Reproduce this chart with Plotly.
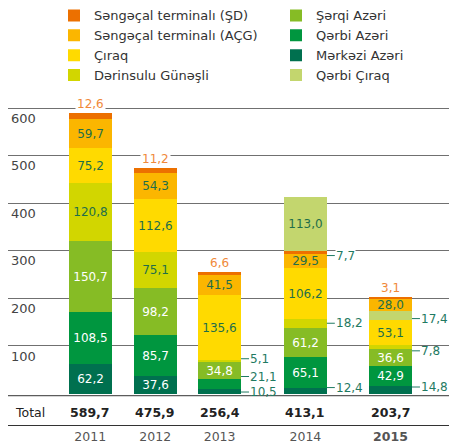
import plotly.graph_objects as go

# ---------------- data ----------------
years = ["2011", "2012", "2013", "2014", "2015"]
totals = [589.7, 475.9, 256.4, 413.1, 203.7]

merkezi_azeri = [62.2, 37.6, 10.5, 12.4, 14.8]
qerbi_azeri = [108.5, 85.7, 21.1, 65.1, 42.9]
serqi_azeri = [150.7, 98.2, 34.8, 61.2, 36.6]
derinsulu_guneshli = [120.8, 75.1, 5.1, 18.2, 7.8]
ciraq = [75.2, 112.6, 135.6, 106.2, 53.1]
qerbi_ciraq = [0, 0, 0, 113.0, 17.4]
sangachal_acg = [59.7, 54.3, 41.5, 29.5, 28.0]
sangachal_sd = [12.6, 11.2, 6.6, 7.7, 3.1]

y_ticks = [100, 200, 300, 400, 500, 600]

# ---------------- layout / style settings ----------------
x_pos = [0, 1, 1.99, 3.31, 4.62]          # bar centres (uneven gaps as in the original)
bar_w = 0.66
QC_ON_TOP = ["2014"]                      # year where Qərbi Çıraq sits on top of the stack
FONT = "DejaVu Sans"
DARK_TXT = "#1f6e4a"
SIDE_TXT = "#1f7a62"
ORANGE_TXT = "#f0893a"
LBL = 12

# labels drawn beside the bar with a short leader line: (series, year) -> vertical nudge px
SIDE = {
    ("derinsulu", "2013"): 2, ("qerbi_azeri", "2013"): 7, ("merkezi", "2013"): -1,
    ("sd", "2014"): -3, ("derinsulu", "2014"): 0, ("merkezi", "2014"): 3,
    ("qc_low", "2015"): -3, ("derinsulu", "2015"): -4, ("merkezi", "2015"): 3,
}

qc_lower = [None if y in QC_ON_TOP else v for y, v in zip(years, qerbi_ciraq)]
qc_upper = [v if y in QC_ON_TOP else None for y, v in zip(years, qerbi_ciraq)]

# stacking order bottom -> top
stack = [
    ("merkezi", "Mərkəzi Azəri", merkezi_azeri, "#00704f", "white", 6, True),
    ("qerbi_azeri", "Qərbi Azəri", qerbi_azeri, "#00963f", "white", 4, True),
    ("serqi", "Şərqi Azəri", serqi_azeri, "#86bc25", "white", 2, True),
    ("derinsulu", "Dərinsulu Günəşli", derinsulu_guneshli, "#d2d600", DARK_TXT, 7, True),
    ("ciraq", "Çıraq", ciraq, "#ffda00", DARK_TXT, 5, True),
    ("qc_low", "Qərbi Çıraq", qc_lower, "#c3d66e", DARK_TXT, 8, True),
    ("acg", "Səngəçal terminalı (AÇG)", sangachal_acg, "#fbb600", DARK_TXT, 3, True),
    ("sd", "Səngəçal terminalı (ŞD)", sangachal_sd, "#ec7000", DARK_TXT, 1, True),
    ("qc_up", "Qərbi Çıraq", qc_upper, "#c3d66e", DARK_TXT, 9, False),
]


def fmt(v):
    return f"{v:.1f}".replace(".", ",")


fig = go.Figure()
annotations = []
base = [0.0] * len(years)
for key, name, vals, color, tcol, rank, show in stack:
    texts = []
    for i, (y, v) in enumerate(zip(years, vals)):
        if v is None or v == 0:
            texts.append("")
            continue
        if key == "sd" and (key, y) not in SIDE:
            texts.append("")
            annotations.append(dict(
                x=x_pos[i], y=base[i] + v, xref="x", yref="y", text=fmt(v),
                showarrow=False, yanchor="bottom", yshift=0, bgcolor="white",
                borderpad=1, font=dict(family=FONT, size=LBL, color=ORANGE_TXT)))
        elif (key, y) in SIDE:
            texts.append("")
            annotations.append(dict(
                x=x_pos[i] + bar_w / 2, y=base[i] + v / 2, xref="x", yref="y",
                text=fmt(v), showarrow=True, arrowhead=0, arrowwidth=1,
                arrowcolor=SIDE_TXT, ax=8, ay=0, xanchor="left", standoff=0,
                yshift=SIDE[(key, y)],
                bgcolor="white" if key == "sd" else "rgba(0,0,0,0)", borderpad=0,
                font=dict(family=FONT, size=LBL, color=SIDE_TXT)))
        else:
            texts.append(fmt(v))
        base[i] += v
    fig.add_trace(go.Bar(
        x=x_pos, y=vals, name=name, marker=dict(color=color, line=dict(width=0)),
        width=bar_w, text=texts, textposition="inside", insidetextanchor="middle",
        constraintext="none", textangle=0,
        textfont=dict(family=FONT, size=LBL, color=tcol),
        legendrank=rank, showlegend=show, legendgroup=name, hoverinfo="skip"))

# Total row
annotations.append(dict(x=0.012, y=-39, xref="paper", yref="y", text="Total",
                        showarrow=False, xanchor="left",
                        font=dict(family=FONT, size=12.5, color="#222")))
for i, t in enumerate(totals):
    annotations.append(dict(x=x_pos[i], y=-39, xref="x", yref="y", text=f"<b>{fmt(t)}</b>",
                            showarrow=False, font=dict(family=FONT, size=12.5, color="#222")))

fig.update_layout(
    width=449, height=446,
    margin=dict(l=8, r=0, t=95, b=21, autoexpand=False),
    barmode="stack",
    bargap=0,
    plot_bgcolor="white", paper_bgcolor="white",
    font=dict(family=FONT, size=13, color="#333"),
    separators=",.",
    legend=dict(orientation="h", xref="container", yref="container",
                x=54 / 449, y=0.999, xanchor="left", yanchor="top",
                entrywidth=177, entrywidthmode="pixels", traceorder="normal",
                font=dict(family=FONT, size=13, color="#333"),
                bgcolor="rgba(0,0,0,0)"),
    annotations=annotations,
    shapes=[dict(type="line", xref="paper", yref="y", x0=0, x1=1, y0=-4.6, y1=-4.6,
                 line=dict(color="#333", width=1))],
)
fig.update_xaxes(range=[-1.266, 5.52], tickvals=x_pos,
                 ticktext=years[:-1] + ["<b>" + years[-1] + "</b>"],
                 tickfont=dict(family=FONT, size=12.5, color="#555"),
                 showgrid=False, zeroline=False, showline=True, linecolor="#333",
                 linewidth=1, ticks="", fixedrange=True, automargin=False)
fig.update_yaxes(range=[-66.2, 627.8], tickvals=y_ticks, showgrid=True,
                 gridcolor="#707070", gridwidth=1.2, zeroline=False, showline=False,
                 ticklabelposition="inside", ticklabelshift=10, ticklabelstandoff=0,
                 tickfont=dict(family=FONT, size=13, color="#444"), fixedrange=True,
                 automargin=False)

fig.write_html("out.html", config={"displayModeBar": False},
               post_script="document.body.style.margin='0';")
